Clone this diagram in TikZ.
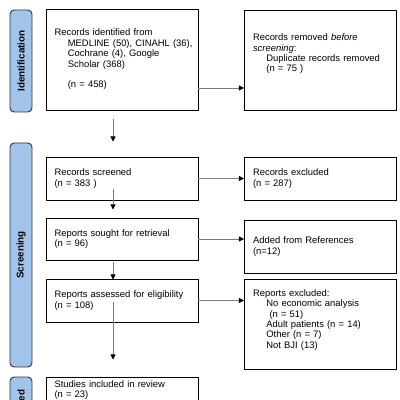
\documentclass[tikz,border=0pt]{standalone}
\usepackage{fontspec}
\setmainfont{Liberation Sans}
\usepackage{tikz}
\usetikzlibrary{arrows.meta, positioning}

\newlength\pxu
\setlength\pxu{0.025cm}
\definecolor{phaseblue}{RGB}{162,196,234}
\definecolor{phaseedge}{RGB}{55,55,60}
\definecolor{linegray}{RGB}{125,125,125}
\newcommand\tabin{\hspace*{9.5pt}}

\begin{document}
\begin{tikzpicture}[x=1\pxu, y=-1\pxu,
        phase/.style={draw=phaseedge, fill=phaseblue, line width=0.7pt, rounded corners=3pt, rotate=90, minimum height=22\pxu, inner sep=0pt, font=\fontsize{7}{8}\selectfont\bfseries},
        box/.style={draw, line width=0.7pt, align=left, text width=135\pxu, inner xsep=8.5\pxu, inner ysep=2pt, font=\fontsize{6.7}{7.4}\selectfont},
        arrow/.style={draw=linegray, line width=0.6pt, -{Triangle[length=3.6pt, width=3.6pt, color=black]}}
    ]
    \useasboundingbox (0,0) rectangle (400,400);
    \clip (0,0) rectangle (400,400);

    % Phase labels
    \node[phase, minimum width=102\pxu] (idlab) at (21,61) {Identification};
    \node[phase, minimum width=224\pxu] (scrlab) at (21,255) {Screening};
    \node[phase, minimum width=66\pxu] (inclab) at (21,410) {Included};

    % Identification
    \node[box, minimum height=101\pxu] (idrec) at (122,59.5) {Records identified from\\
        \tabin\mbox{MEDLINE (50), CINAHL (36),}\\
        \tabin Cochrane (4), Google\\
        \tabin Scholar (368)\\[7.4pt]
        \tabin (n = 458)};
    \node[box, minimum height=100\pxu] (removed) at (320.5,60) {Records removed \textit{before}\\
        \textit{screening}:\\
        \tabin Duplicate records removed\\
        \tabin (n = 75 )\\[2.6pt]\mbox{}};

    % Screening
    \node[box, minimum height=43\pxu] (screened) at (122,178.5) {Records screened\\(n = 383 )};
    \node[box, minimum height=43\pxu] (excluded) at (320.5,178.5) {Records excluded\\(n = 287)};
    \node[box, minimum height=42\pxu] (sought) at (122,239) {Reports sought for retrieval\\(n = 96)};
    \node[box, minimum height=53\pxu] (added) at (320.5,246.5) {Added from References\\(n=12)};
    \node[box, minimum height=43\pxu] (assessed) at (122,300.5) {Reports assessed for eligibility\\(n = 108)};
    \node[box, minimum height=90\pxu] (repexcl) at (320.5,324) {Reports excluded:\\
        \tabin No economic analysis\\
        \tabin\ (n = 51)\\
        \tabin Adult patients (n = 14)\\
        \tabin Other (n = 7)\\
        \tabin Not BJI (13)\\ \mbox{}};

    % Included
    \node[box, minimum height=26\pxu] (included) at (122,390) {Studies included in review\\(n = 23)};

    % Flow
    \coordinate (spine) at (113,0);
    \draw[arrow] ([yshift=-9\pxu]idrec.south -| spine) -- ([yshift=15\pxu]screened.north -| spine);
    \draw[arrow] ([yshift=11\pxu]screened.south -| spine) -- ([yshift=8\pxu]sought.north -| spine);
    \draw[arrow] ([yshift=-2\pxu]sought.south -| spine) -- ([yshift=-1\pxu]assessed.north -| spine);
    \draw[arrow] ([yshift=20\pxu]assessed.south -| spine) -- ([yshift=17\pxu]included.north -| spine);

    \draw[arrow] ([yshift=-28.5\pxu]idrec.east) -- ([yshift=-28.5\pxu]idrec.east -| removed.west);
    \draw[arrow] (screened.east) -- (excluded.west);
    \draw[arrow] (sought.east) -- (sought.east -| added.west);
    \draw[arrow] (assessed.east) -- (assessed.east -| repexcl.west);

\end{tikzpicture}
\end{document}
